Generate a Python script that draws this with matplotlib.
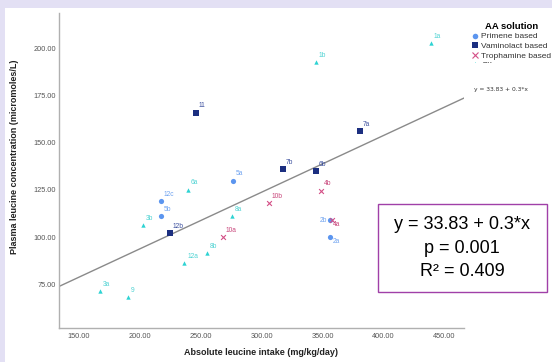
import matplotlib
matplotlib.use('Agg')
import matplotlib.pyplot as plt
from matplotlib.lines import Line2D
from matplotlib.patches import Rectangle
import numpy as np

plt.rcParams['font.family'] = ['Liberation Sans', 'DejaVu Sans']

# Data
primene_x = [217.5, 217.5, 276.8, 355.7, 355.7]
primene_y = [119.0, 111.1, 129.9, 109.1, 100.1]
primene_lbl = ['12c', '5b', '5a', '2b', '2a']

vamino_x = [245.9, 224.6, 317.2, 344.8, 380.9]
vamino_y = [165.9, 102.1, 135.9, 135.0, 156.0]
vamino_lbl = ['11', '12b', '7b', '6b', '7a']

tropha_x = [268.3, 306.0, 348.9, 357.6]
tropha_y = [100.1, 118.1, 124.7, 109.1]
tropha_lbl = ['10a', '10b', '4b', '4a']

other_x = [439.1, 344.3, 167.5, 190.4, 202.2, 239.6, 276.0, 236.6, 255.2]
other_y = [202.6, 192.6, 71.3, 68.1, 106.2, 125.2, 111.1, 86.3, 91.4]
other_lbl = ['1a', '1b', '3a', '9', '3b', '6a', '8a', '12a', '8b']

intercept = 33.83
slope = 0.3
p_value = '0.001'
r2 = '0.409'

x_ticks = [150, 200, 250, 300, 350, 400, 450]
y_ticks = [75, 100, 125, 150, 175, 200]

# labels that sit somewhere other than up-right of the point
special_offsets = {
    '2b': (-2, 0, 'right', 'center'),
    '2a': (2, -1, 'left', 'top'),
    '4a': (1, -1, 'left', 'top'),
}

fig = plt.figure(figsize=(5.52, 3.62), dpi=100)
fig.patch.set_facecolor('white')
# lavender slide border
fig.patches.append(Rectangle((0, 1 - 8 / 362), 1, 8 / 362, transform=fig.transFigure,
                             facecolor='#e3e0f4', edgecolor='none', zorder=-1))
fig.patches.append(Rectangle((0, 0), 5 / 552, 1, transform=fig.transFigure,
                             facecolor='#e3e0f4', edgecolor='none', zorder=-1))

ax = fig.add_axes([59.3 / 552, 1 - 327.7 / 362, 404.4 / 552, 314.4 / 362])
ax.set_xlim(133.9, 465.8)
ax.set_ylim(52.1, 218.5)

series = [
    (primene_x, primene_y, primene_lbl, 'o', '#5b95ef', '#6fa3f0', 14, 'Primene based'),
    (vamino_x, vamino_y, vamino_lbl, 's', '#1c2f80', '#3b4f9e', 20, 'Vaminolact based'),
    (tropha_x, tropha_y, tropha_lbl, 'x', '#d44f86', '#c8457a', 12, 'Trophamine based'),
    (other_x, other_y, other_lbl, '^', '#2ed3d3', '#4fd3d3', 10, 'Other'),
]

handles = []
for xs, ys, lbls, mk, col, lcol, s, name in series:
    lw = 0.8 if mk == 'x' else 0
    ax.scatter(xs, ys, marker=mk, s=s, color=col, linewidths=lw, zorder=3)
    for x, y, t in zip(xs, ys, lbls):
        dx, dy, ha, va = special_offsets.get(t, (2, 2.5, 'left', 'bottom'))
        ax.annotate(t, (x, y), xytext=(dx, dy), textcoords='offset points',
                    fontsize=4.8, color=lcol, ha=ha, va=va)
    handles.append(Line2D([], [], marker=mk, linestyle='none', color=col,
                          markersize=4 if mk != '^' else 3.5,
                          markeredgewidth=0.8 if mk == 'x' else 0))

# fit line
lx = np.array(ax.get_xlim())
ax.plot(lx, intercept + slope * lx, color='#8a8a8a', lw=1.0, zorder=2)

ax.set_xticks(x_ticks)
ax.set_xticklabels(['%.2f' % v for v in x_ticks])
ax.set_yticks(y_ticks)
ax.set_yticklabels(['%.2f' % v for v in y_ticks])
ax.tick_params(length=0, labelsize=5.3, labelcolor='#555555')
ax.tick_params(axis='x', pad=3.5)
ax.tick_params(axis='y', pad=2.4)

for side in ['top', 'right']:
    ax.spines[side].set_visible(False)
for side in ['left', 'bottom']:
    ax.spines[side].set_color('#b0b0b0')
    ax.spines[side].set_linewidth(1.0)

ax.set_xlabel('Absolute leucine intake (mg/kg/day)', fontsize=6.5, fontweight='bold',
              color='#222222', va='center')
ax.xaxis.set_label_coords(0.5, -0.0795)
ax.set_ylabel('Plasma leucine concentration (micromoles/L)', fontsize=6.5,
              fontweight='bold', color='#222222', va='center', ha='center')
ax.yaxis.set_label_coords(-0.112, 0.545)

leg = ax.legend(handles, [s[-1] for s in series], title='AA solution',
                loc='upper left', bbox_to_anchor=(472 / 552, 1 - 22 / 362),
                bbox_transform=fig.transFigure, frameon=False, fontsize=6,
                title_fontproperties={'weight': 'bold', 'size': 6.8},
                handletextpad=0.3, handlelength=0.8, labelspacing=0.2,
                borderpad=0, borderaxespad=0)
for t in leg.get_texts():
    t.set_color('#333333')

# the last legend row is cut off in the original
fig.patches.append(Rectangle((468 / 552, 1 - 75 / 362), 84 / 552, 12.5 / 362,
                             transform=fig.transFigure, facecolor='white',
                             edgecolor='none', zorder=10))

fig.text(474 / 552, 1 - 90 / 362, 'y = %.2f + %.1f*x' % (intercept, slope),
         fontsize=4.3, color='#333333', va='center', family='DejaVu Sans')

# stats box
fig.patches.append(Rectangle((377.7 / 552, 1 - 292.3 / 362), 169 / 552, 88.6 / 362,
                             transform=fig.transFigure, facecolor='white',
                             edgecolor='#a040a8', lw=1.0, zorder=5))
cx = 462 / 552
fig.text(cx, 1 - 224.3 / 362, 'y = %.2f + %.1f*x' % (intercept, slope), fontsize=13,
         ha='center', va='center', zorder=6)
fig.text(cx, 1 - 248.5 / 362, 'p = ' + p_value, fontsize=13, ha='center', va='center', zorder=6)
fig.text(cx, 1 - 271 / 362, 'R² = ' + r2, fontsize=13, ha='center', va='center', zorder=6)

fig.savefig('out.png', dpi=100)
